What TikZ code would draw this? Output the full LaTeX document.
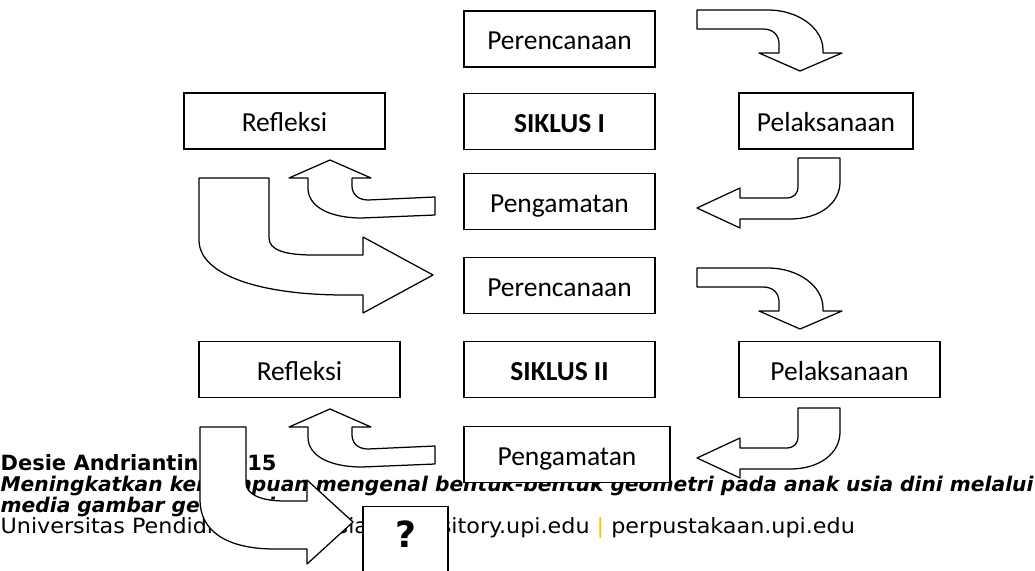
\documentclass[tikz,border=0pt]{standalone}
\usepackage{fontspec}
\setmainfont{Carlito}
\newfontfamily\footfont{DejaVu Sans}
\newfontfamily\footwide[FakeStretch=1.06]{DejaVu Sans}
\definecolor{sepgold}{RGB}{255,192,0}
\begin{document}
\begin{tikzpicture}[x=1pt,y=-1pt,line width=1.25pt,
  stage/.style={rectangle,draw,fill=white,inner sep=0pt,minimum height=56pt,
    text height=21pt,text depth=0pt,font=\fontsize{27.5}{30}\selectfont},
  blk/.style={draw,fill=white,line join=round},
  foot/.style={anchor=base west,inner sep=0pt,font=\footwide\fontsize{21}{24}\selectfont},
  footb/.style={foot,font=\footfont\bfseries\itshape\fontsize{20.2}{24}\selectfont}]
  \useasboundingbox (0,0) rectangle (1035,570);
  % footer text, drawn first so the shapes cover it
  \node[foot,font=\footfont\bfseries\fontsize{21}{24}\selectfont] (penulis) at (0,470) {Desie Andriantini,\hspace{-3pt} 2015};
  \node[footb] (judul) at (0,491) {Meningkatkan kemampuan mengenal bentuk-bentuk geometri pada anak usia dini melalui};
  \node[footb] (judulb) at (0,512) {media gambar geometri};
  \node[foot] (univ) at (0,533) {Universitas Pendidikan Indonesia {\color{sepgold}|} repository.upi.edu {\color{sepgold}|} perpustakaan.upi.edu};
  % siklus I
  \node[stage,minimum width=191pt] (renc1) at (559.5,39) {Perencanaan};
  \node[stage,minimum width=201pt] (refl1) at (284.5,121) {Refleksi};
  \node[stage,minimum width=191pt] (sik1) at (559.5,121.5) {\textbf{SIKLUS I}};
  \node[stage,minimum width=174pt] (pel1) at (826,121) {Pelaksanaan};
  \node[stage,minimum width=191pt] (peng1) at (559.5,201.5) {Pengamatan};
  % siklus II
  \node[stage,minimum width=191pt] (renc2) at (559.5,285.5) {Perencanaan};
  \node[stage,minimum width=201pt] (refl2) at (299.5,369.5) {Refleksi};
  \node[stage,minimum width=191pt] (sik2) at (559.5,369.5) {\textbf{SIKLUS II}};
  \node[stage,minimum width=201pt] (pel2) at (839.5,369.5) {Pelaksanaan};
  \node[stage,minimum width=206pt] (peng2) at (567,454.5) {Pengamatan};
  % block arrows
  \foreach \dy in {0,258}{
    \draw[blk,yshift=-\dy pt] (697,10) -- (768,10) .. controls (798,10) and (823,28) .. (823,50)
      -- (823,53) -- (842,53) -- (800,71) -- (759,53) -- (779,53) -- (779,44)
      .. controls (779,35) and (773,29) .. (763,29) -- (697,29) -- cycle;
  }
  \foreach \dy in {0,250}{
    \draw[blk,yshift=-\dy pt] (798,158) -- (840,158) -- (840,182) .. controls (840,203) and (820,219) .. (790,219)
      -- (740,219) -- (740,228) -- (697,208) -- (740,188) -- (740,198) -- (786,198)
      .. controls (794,198) and (798,194) .. (798,186) -- cycle;
  }
  \foreach \dy in {0,249}{
    \draw[blk,yshift=-\dy pt] (435,197) -- (368,200) .. controls (358,200) and (352,194) .. (352,186)
      -- (352,178) -- (371,178) -- (330,160) -- (289,178) -- (308,178) -- (308,188)
      .. controls (308,207) and (330,218) .. (362,218) -- (435,215) -- cycle;
  }
  \draw[blk] (199,178) -- (269,178) -- (269,238) .. controls (269,250) and (285,255) .. (313,255)
    -- (363,255) -- (363,237) -- (433,275) -- (363,313) -- (363,295) -- (345,295)
    .. controls (260,295) and (199,275) .. (199,240) -- cycle;
  \draw[blk] (200,427) -- (246,427) -- (246,483) .. controls (246,494) and (260,501) .. (285,501)
    -- (307,501) -- (307,480) -- (353,522) -- (307,564) -- (307,549) -- (275,549)
    .. controls (225,549) and (200,530) .. (200,500) -- cycle;
  \node[rectangle,draw,fill=white,anchor=north,minimum width=85pt,minimum height=70pt,
    font=\footfont\bfseries\fontsize{36}{40}\selectfont] (tanya) at (405.5,506) {\raisebox{14pt}{?}};
\end{tikzpicture}
\end{document}
